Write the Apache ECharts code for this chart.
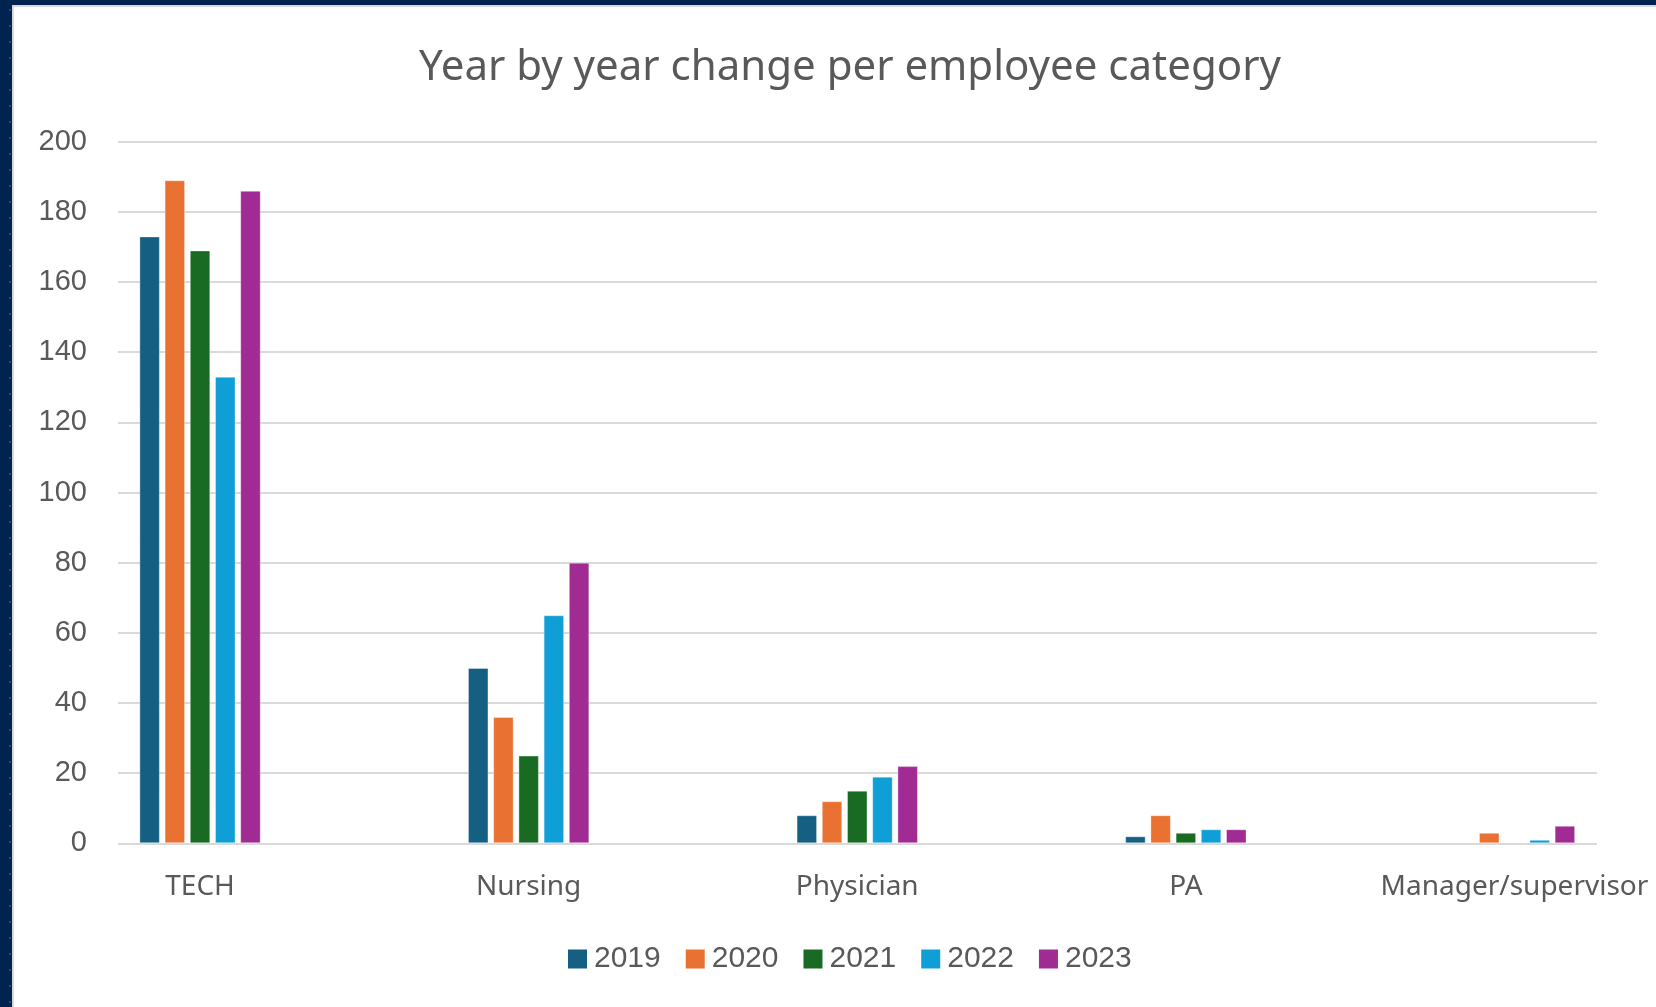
<!DOCTYPE html>
<html>
<head>
<meta charset="utf-8">
<title>Year by year change per employee category</title>
<script src="https://cdn.jsdelivr.net/npm/echarts@6/dist/echarts.min.js"></script>
<style>
  html, body { margin: 0; padding: 0; width: 1656px; height: 1007px; overflow: hidden; }
  body {
    background-color: #00234f;
    background-image: radial-gradient(circle, #1747a0 1px, transparent 1.6px);
    background-size: 16px 16px;
    background-position: 2px 2px;
  }
  #panel {
    position: absolute; left: 12px; top: 5px; right: 0; bottom: 0;
    background: #ffffff;
    border-left: 2px solid #d9d9d9; border-top: 2px solid #d9d9d9;
  }
  #chart { position: absolute; left: 0; top: 0; width: 1656px; height: 1007px; }
</style>
</head>
<body>
<div id="panel"></div>
<div id="chart"></div>
<script>
// Employee categories and yearly change per category
const categories = ['TECH', 'Nursing', 'Physician', 'PA', 'Manager/supervisor'];
const years = ['2019', '2020', '2021', '2022', '2023'];
const values2019 = [173, 50, 8, 2, 0];
const values2020 = [189, 36, 12, 8, 3];
const values2021 = [169, 25, 15, 3, 0];
const values2022 = [133, 65, 19, 4, 1];
const values2023 = [186, 80, 22, 4, 5];
const yTicks = { min: 0, max: 200, step: 20 };

const seriesValues = [values2019, values2020, values2021, values2022, values2023];
const palette = ['#156082', '#e97132', '#196b24', '#0f9ed5', '#a02b93'];

const chart = echarts.init(document.getElementById('chart'), null, { renderer: 'canvas' });

const plotTop = 141.7;
const plotBottom = 1007 - 843.3;

// light outline on non-empty bars only, so zero values leave no trace
const barItems = (vals) => vals.map(v => ({
  value: v,
  itemStyle: v > 0 ? { borderColor: 'rgba(255,255,255,0.35)', borderWidth: 1 } : { borderWidth: 0 }
}));

chart.setOption({
  animation: false,
  backgroundColor: 'transparent',
  color: palette,
  title: {
    text: 'Year by year change per employee category',
    left: 845,
    textAlign: 'center',
    top: 42,
    textStyle: { fontFamily: 'Noto Sans', fontSize: 42, fontWeight: 'normal', color: '#595959' }
  },
  legend: {
    data: years,
    left: 568,
    top: 944,
    padding: 0,
    itemWidth: 19,
    itemHeight: 19,
    itemGap: 25,
    icon: 'rect',
    textStyle: { fontFamily: 'Liberation Sans', fontSize: 30, color: '#595959', padding: [0, 0, 0, 2] }
  },
  grid: [
    // value axis and gridlines
    { left: 118, right: 59, top: plotTop, bottom: plotBottom, outerBoundsMode: 'none' },
    // category band carrying the bars (runs past the right edge)
    { left: 35.75, width: 1643, top: plotTop, bottom: plotBottom, outerBoundsMode: 'none', containLabel: false }
  ],
  xAxis: [
    { type: 'category', gridIndex: 0, data: categories, show: false },
    {
      type: 'category', gridIndex: 1, data: categories,
      axisLine: { show: false }, axisTick: { show: false },
      axisLabel: { fontFamily: 'Noto Sans', fontSize: 28, color: '#595959', margin: 30, interval: 0 }
    }
  ],
  yAxis: [
    {
      type: 'value', gridIndex: 0, min: yTicks.min, max: yTicks.max, interval: yTicks.step,
      axisLine: { show: false }, axisTick: { show: false },
      axisLabel: { fontFamily: 'Liberation Sans', fontSize: 29, color: '#595959', margin: 31 },
      splitLine: { lineStyle: { color: '#d9d9d9', width: 2 } }
    },
    {
      type: 'value', gridIndex: 1, min: yTicks.min, max: yTicks.max, interval: yTicks.step,
      show: false, splitLine: { show: false }
    }
  ],
  series: years.map((y, i) => ({
    name: y,
    type: 'bar',
    xAxisIndex: 1,
    yAxisIndex: 1,
    data: barItems(seriesValues[i]),
    barWidth: 20.5,
    barGap: '23%',
    itemStyle: { color: palette[i] }
  }))
});
</script>
</body>
</html>
